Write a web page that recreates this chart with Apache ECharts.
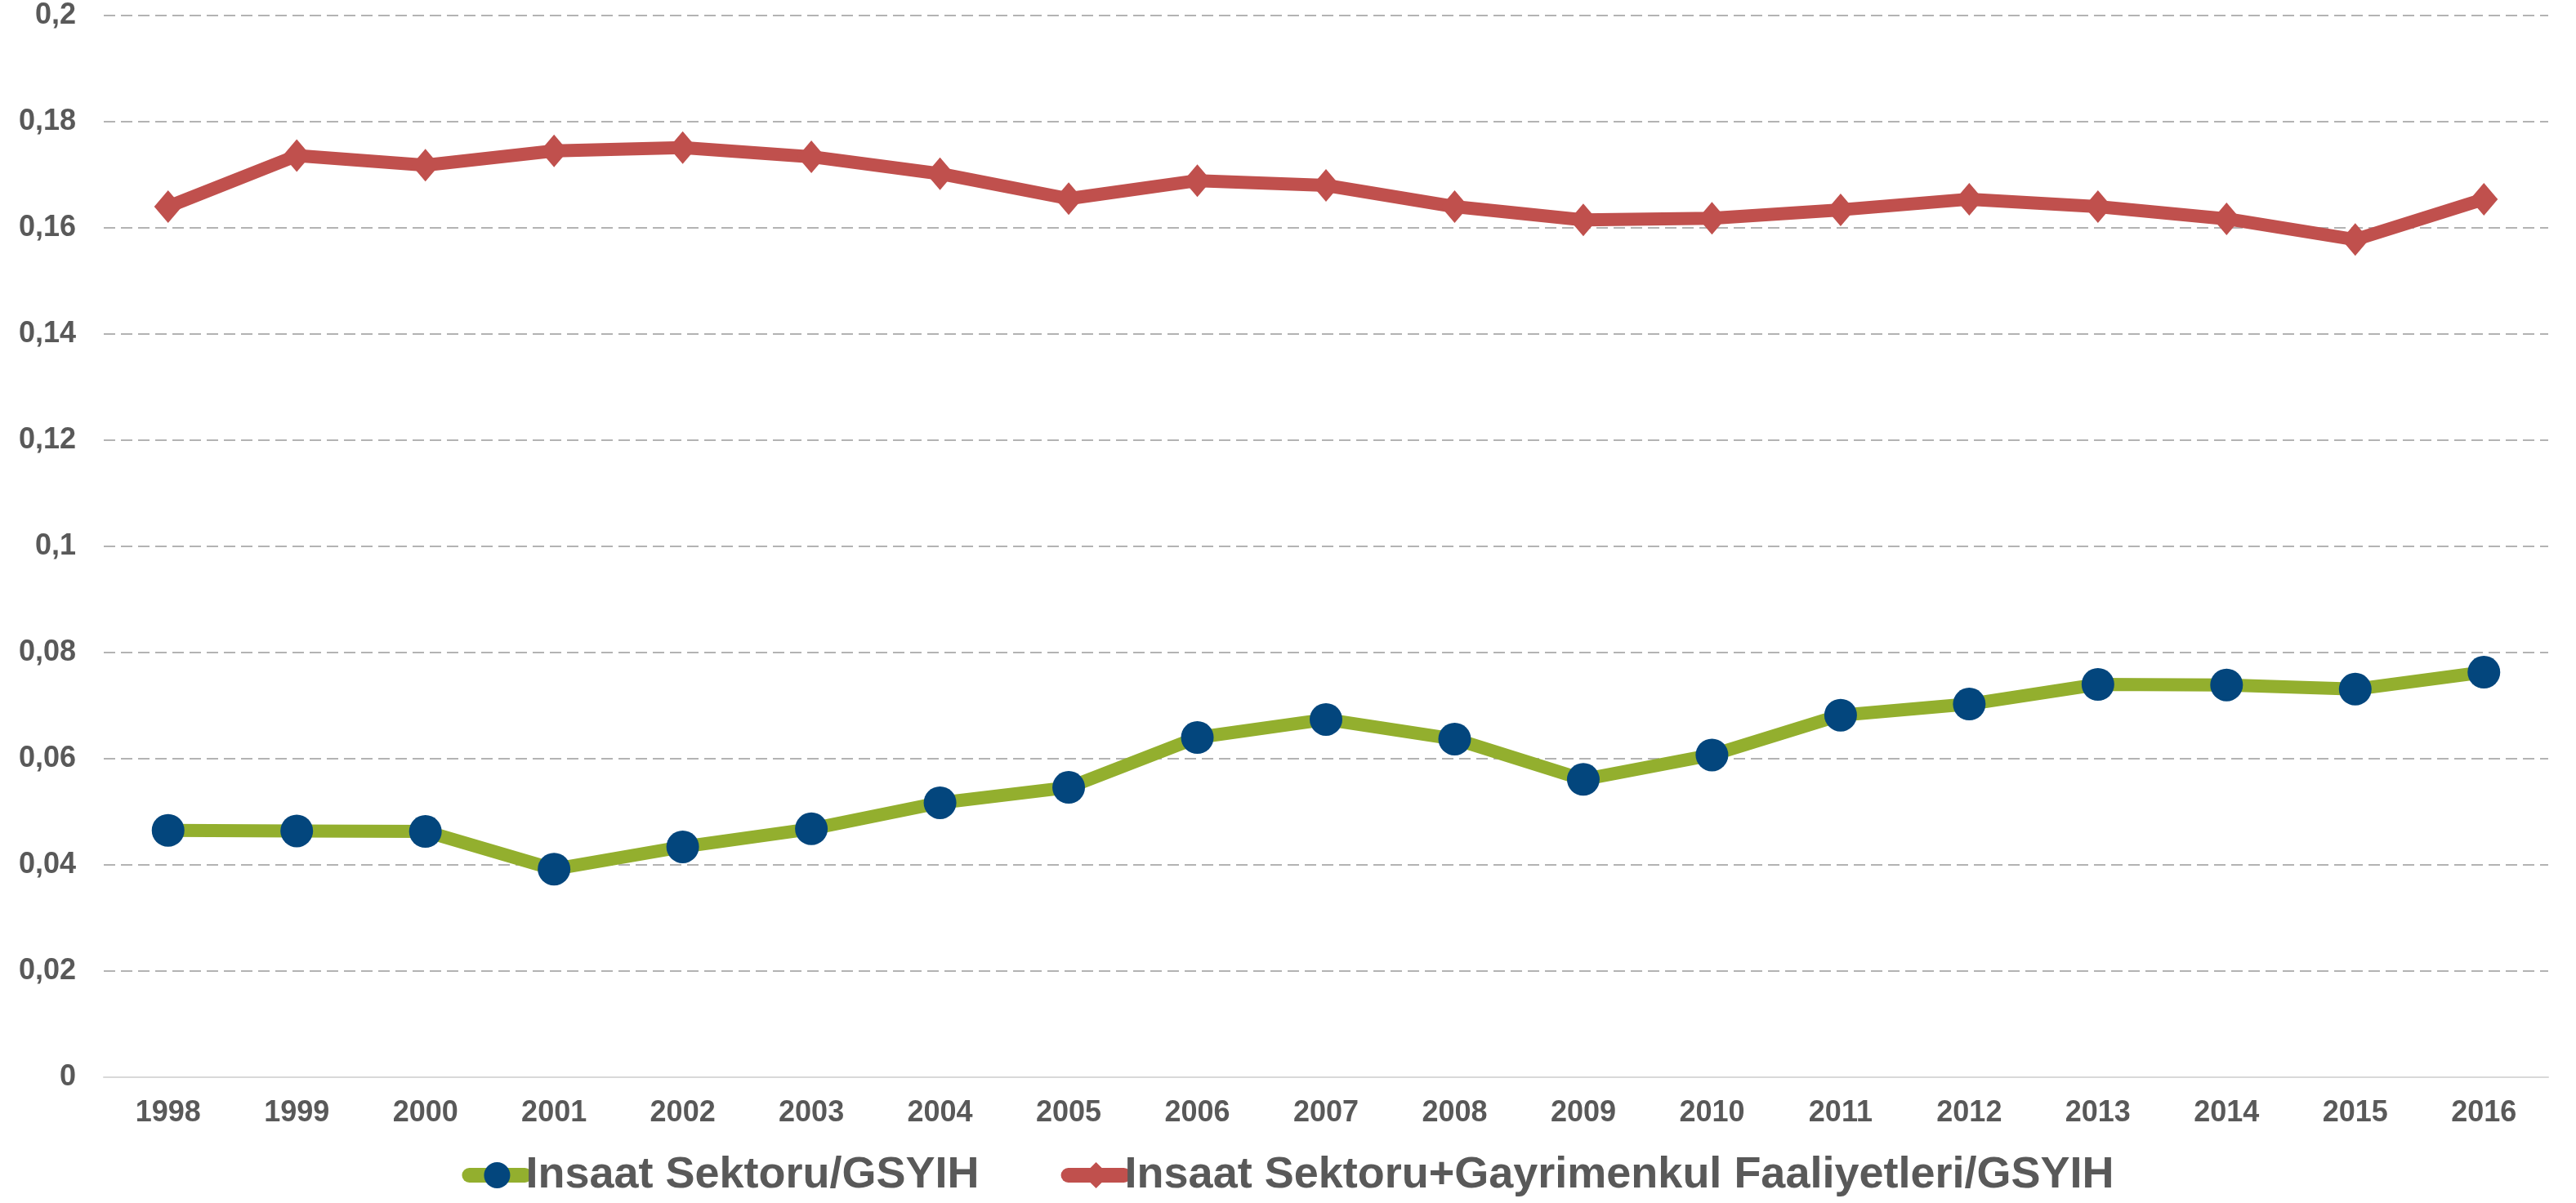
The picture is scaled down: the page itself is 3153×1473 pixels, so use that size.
<!DOCTYPE html>
<html>
<head>
<meta charset="utf-8">
<script src="https://cdn.jsdelivr.net/npm/echarts@6/dist/echarts.min.js"></script>
<style>
html,body{margin:0;padding:0;background:#fff;}
#chart{width:3153px;height:1473px;}
</style>
</head>
<body>
<div id="chart"></div>
<script>
const years = ['1998','1999','2000','2001','2002','2003','2004','2005','2006','2007','2008','2009','2010','2011','2012','2013','2014','2015','2016'];
const insaat = [0.0465,0.0464,0.0463,0.0392,0.0434,0.0468,0.0517,0.0546,0.0640,0.0674,0.0637,0.0561,0.0607,0.0682,0.0703,0.0740,0.0739,0.0731,0.0763];
const insaatGayrimenkul = [0.1640,0.1736,0.1718,0.1745,0.1751,0.1734,0.1702,0.1655,0.1689,0.1680,0.1640,0.1615,0.1618,0.1634,0.1654,0.1640,0.1617,0.1578,0.1654];
const seriesNames = ['Insaat Sektoru/GSYIH','Insaat Sektoru+Gayrimenkul Faaliyetleri/GSYIH'];

const FONT = '"Liberation Sans", Arial, sans-serif';
const TXT = '#595959';
const chart = echarts.init(document.getElementById('chart'), null, {renderer:'canvas'});
chart.setOption({
  backgroundColor:'#ffffff',
  animation:false,
  grid:{left:127, right:34, top:19, bottom:154, containLabel:false},
  legend:{
    bottom:2, left:'center', itemWidth:68, itemHeight:40, itemGap:100,
    lineStyle:{width:18, cap:'round'},
    textStyle:{fontFamily:FONT, fontWeight:'bold', fontSize:54, color:TXT, padding:[0,0,0,-4]},
    data:seriesNames
  },
  xAxis:{
    type:'category', data:years, boundaryGap:true,
    axisLine:{lineStyle:{color:'#D9D9D9', width:2}},
    axisTick:{show:false},
    axisLabel:{fontFamily:FONT, fontWeight:'bold', fontSize:36, color:TXT, margin:26}
  },
  yAxis:{
    type:'value', min:0, max:0.2, interval:0.02,
    axisLine:{show:false}, axisTick:{show:false},
    axisLabel:{fontFamily:FONT, fontWeight:'bold', fontSize:36, color:TXT, margin:34,
      formatter:v => v === 0 ? '0' : String(+v.toFixed(2)).replace('.', ',')},
    splitLine:{show:true, showMinLine:false, lineStyle:{color:'#B3B3B3', width:2, type:[14,7]}}
  },
  series:[
    {
      name:seriesNames[0], type:'line', data:insaat,
      symbol:'circle', symbolSize:40,
      lineStyle:{color:'#93AF2E', width:16},
      itemStyle:{color:'#03467D'},
      z:3
    },
    {
      name:seriesNames[1], type:'line', data:insaatGayrimenkul,
      symbol:'diamond', symbolSize:[34,40],
      lineStyle:{color:'#C0504D', width:16},
      itemStyle:{color:'#C0504D'},
      z:2
    }
  ]
});
</script>
</body>
</html>
